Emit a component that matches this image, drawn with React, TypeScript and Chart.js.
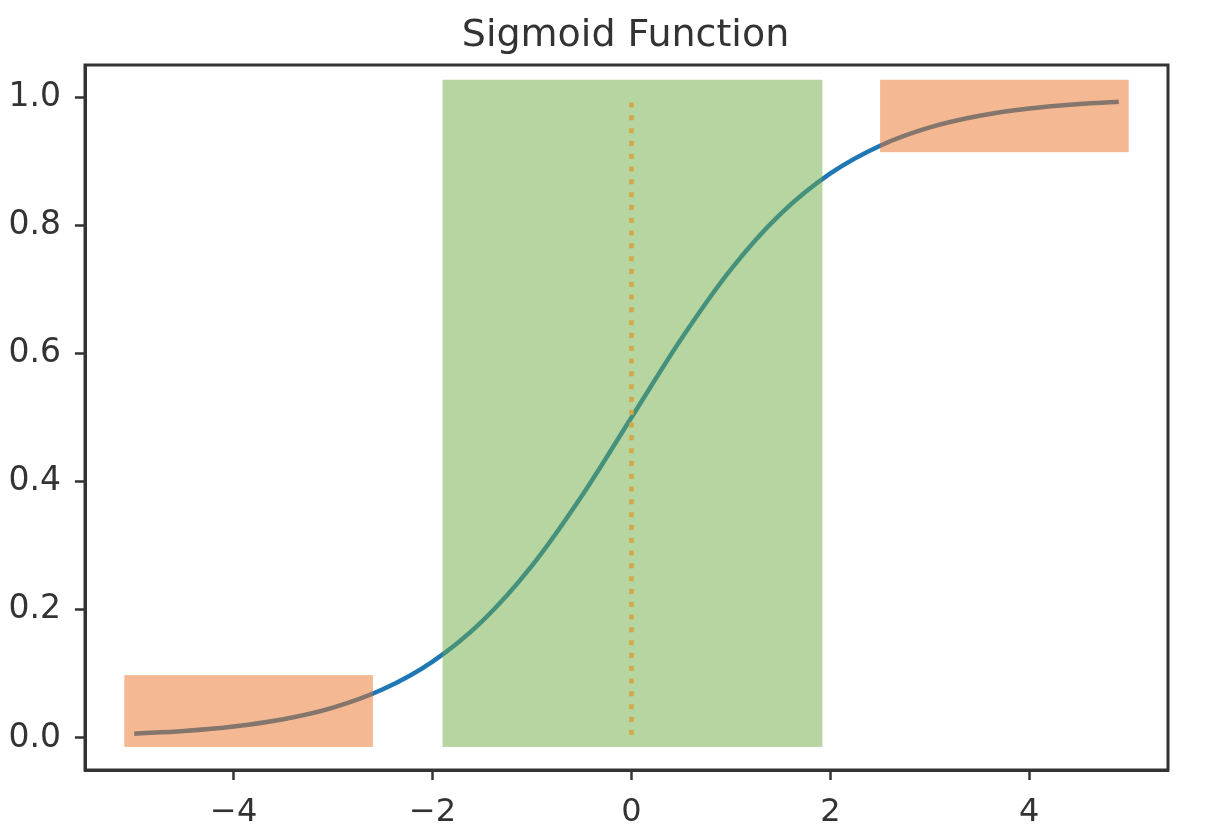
import React, { useEffect, useRef } from "react";
import { Chart, registerables } from "chart.js";

Chart.register(...registerables);

// ---- data ----
const titleText = "Sigmoid Function";
const xValues = [-5, -4.5, -4, -3.5, -3, -2.5, -2, -1.5, -1, -0.5, 0, 0.5, 1, 1.5, 2, 2.5, 3, 3.5, 4, 4.5, 4.9];
const yValues = [0.0067, 0.011, 0.018, 0.0293, 0.0474, 0.0759, 0.1192, 0.1824, 0.2689, 0.3775, 0.5, 0.6225, 0.7311, 0.8176, 0.8808, 0.9241, 0.9526, 0.9707, 0.982, 0.989, 0.9926];

const xTickValues = [-4, -2, 0, 2, 4];
const xTickLabels = ["\u22124", "\u22122", "0", "2", "4"];
const yTickValues = [0, 0.2, 0.4, 0.6, 0.8, 1.0];
const yTickLabels = ["0.0", "0.2", "0.4", "0.6", "0.8", "1.0"];

const xLimits = [-5.495, 5.395];
const yLimits = [-0.05, 1.05];

// highlighted regions (data units)
const boxX0 = [-5.1, -1.9, 2.5];
const boxX1 = [-2.6, 1.92, 5.0];
const boxY0 = [-0.014, -0.014, 0.914];
const boxY1 = [0.098, 1.027, 1.027];
const boxKinds = ["tail", "middle", "tail"];

// dotted marker line
const markerX = [0, 0];
const markerY = [0.005, 1.003];

// ---- styles ----
const FONT = "DejaVu Sans";
const TEXT = "#333333";
const FRAME = "#333333";
const LINE_BLUE = "#1f77b4";
const KIND_COLORS: Record<string, string> = {
  tail: "rgba(233,115,37,0.5)",
  middle: "rgba(109,171,65,0.5)",
};
const MARKER_COLOR = "#d4a847";

const overlayPlugin = {
  id: "overlay",
  afterDatasetsDraw(chart: any) {
    const { ctx, scales } = chart;
    const xs = scales.x;
    const ys = scales.y;
    ctx.save();
    for (let i = 0; i < boxX0.length; i++) {
      const l = xs.getPixelForValue(boxX0[i]);
      const r = xs.getPixelForValue(boxX1[i]);
      const t = ys.getPixelForValue(boxY1[i]);
      const b = ys.getPixelForValue(boxY0[i]);
      ctx.fillStyle = KIND_COLORS[boxKinds[i]];
      ctx.fillRect(l, t, r - l, b - t);
    }
    ctx.strokeStyle = MARKER_COLOR;
    ctx.lineWidth = 4.5;
    ctx.setLineDash([5, 7.8]);
    ctx.beginPath();
    ctx.moveTo(xs.getPixelForValue(markerX[0]), ys.getPixelForValue(markerY[0]));
    ctx.lineTo(xs.getPixelForValue(markerX[1]), ys.getPixelForValue(markerY[1]));
    ctx.stroke();
    ctx.restore();
  },
  afterDraw(chart: any) {
    const { ctx, chartArea } = chart;
    ctx.save();
    ctx.strokeStyle = FRAME;
    ctx.lineWidth = 3;
    ctx.setLineDash([]);
    ctx.strokeRect(chartArea.left, chartArea.top, chartArea.right - chartArea.left, chartArea.bottom - chartArea.top);
    ctx.fillStyle = TEXT;
    ctx.font = `38px "${FONT}"`;
    ctx.textAlign = "center";
    ctx.textBaseline = "alphabetic";
    ctx.fillText(titleText, (chartArea.left + chartArea.right) / 2 - 1, 46);
    ctx.restore();
  },
};

export default function App() {
  const ref = useRef<HTMLCanvasElement | null>(null);
  useEffect(() => {
    if (!ref.current) return;
    const chart = new Chart(ref.current, {
      type: "scatter",
      data: {
        datasets: [
          {
            label: "sigmoid",
            data: xValues.map((x, i) => ({ x, y: yValues[i] })),
            showLine: true,
            borderColor: LINE_BLUE,
            borderWidth: 4.5,
            pointRadius: 0,
            cubicInterpolationMode: "monotone",
            fill: false,
          } as any,
        ],
      },
      options: {
        animation: false,
        responsive: false,
        maintainAspectRatio: false,
        layout: { padding: { top: 65, right: 42, left: 0, bottom: 0 } },
        plugins: {
          legend: { display: false },
          title: { display: false },
          tooltip: { enabled: false },
        },
        scales: {
          x: {
            type: "linear",
            min: xLimits[0],
            max: xLimits[1],
            afterBuildTicks: (scale: any) => {
              scale.ticks = xTickValues.map((v) => ({ value: v }));
            },
            afterFit: (scale: any) => {
              scale.height = 60;
            },
            ticks: {
              autoSkip: false,
              maxRotation: 0,
              color: TEXT,
              padding: 13,
              font: { family: FONT, size: 32 },
              callback: (v: any) => {
                const i = xTickValues.indexOf(Number(v));
                return i >= 0 ? xTickLabels[i] : "";
              },
            },
            grid: {
              display: true,
              drawOnChartArea: false,
              drawTicks: true,
              tickLength: 10,
              tickWidth: 2.5,
              tickColor: FRAME,
            },
            border: { display: true, color: FRAME, width: 3 },
          },
          y: {
            type: "linear",
            min: yLimits[0],
            max: yLimits[1],
            afterBuildTicks: (scale: any) => {
              scale.ticks = yTickValues.map((v) => ({ value: v }));
            },
            afterFit: (scale: any) => {
              scale.width = 85;
            },
            ticks: {
              autoSkip: false,
              color: TEXT,
              padding: 14,
              font: { family: FONT, size: 33 },
              callback: (v: any) => {
                const i = yTickValues.findIndex((t) => Math.abs(t - Number(v)) < 1e-9);
                return i >= 0 ? yTickLabels[i] : "";
              },
            },
            grid: {
              display: true,
              drawOnChartArea: false,
              drawTicks: true,
              tickLength: 10,
              tickWidth: 2.5,
              tickColor: FRAME,
            },
            border: { display: true, color: FRAME, width: 3 },
          },
        },
      },
      plugins: [overlayPlugin],
    });
    return () => chart.destroy();
  }, []);

  return (
    <div style={{ position: "fixed", left: 0, top: 0, width: 1210, height: 830, background: "#ffffff" }}>
      <canvas ref={ref} width={1210} height={830} style={{ width: 1210, height: 830, display: "block" }} />
    </div>
  );
}
